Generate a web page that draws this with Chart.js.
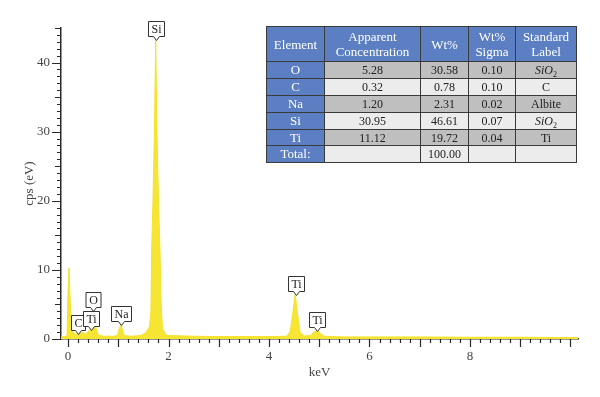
<!DOCTYPE html>
<html lang="en">
<head>
<meta charset="UTF-8">
<title>EDS spectrum</title>
<script src="https://cdn.jsdelivr.net/npm/chart.js"></script>
<style>
  body { margin: 0; background: #fff; }
  .wrap { position: relative; width: 600px; height: 397px; }
  #quant {
    position: absolute; left: 266px; top: 26px;
    border-collapse: collapse; table-layout: fixed;
    font-family: 'Liberation Serif', serif; font-size: 12px; color: #222;
  }
  #quant th, #quant td { border: 1.5px solid #3a3a3a; text-align: center; padding: 0; }
  #quant th { background: #5b7fc2; color: #fff; font-weight: normal; font-size: 13px; line-height: 15px; height: 34px; }
  #quant td { height: 15.9px; line-height: 14px; }
  #quant td.el { background: #5b7fc2; color: #fff; font-size: 13px; }
  #quant tr.dark td { background: #bfbfbf; }
  #quant tr.light td { background: #ececec; }
  #quant tr td.el { background: #5b7fc2; }
  #quant sub { font-size: 8px; line-height: 0; vertical-align: -3px; }
</style>
</head>
<body>
<div class="wrap">
  <canvas id="spectrum" width="600" height="397"></canvas>
  <table id="quant"></table>
</div>
<script>
// spectrum (keV vs cps)
const keV = [-0.14, -0.02, 0.0, 0.02, 0.04, 0.07, 0.1, 0.15, 0.2, 0.25, 0.28, 0.32, 0.38, 0.44, 0.48, 0.51, 0.53, 0.56, 0.6,
  0.7, 0.9, 0.98, 1.02, 1.05, 1.08, 1.12, 1.25, 1.45, 1.55, 1.62, 1.65, 1.665, 1.69, 1.72, 1.745, 1.77, 1.80, 1.83, 1.855,
  1.88, 1.95, 2.0, 2.5, 3.0, 3.5, 4.0, 4.35, 4.42, 4.47, 4.52, 4.57, 4.62, 4.7, 4.82, 4.88, 4.95, 5.02, 5.1, 5.5, 6.0,
  7.0, 8.0, 9.0, 10.15];
const cps = [0.3, 0.4, 7, 10.3, 6, 2, 1.0, 0.7, 0.6, 0.9, 1.0, 0.7, 0.9, 1.4, 1.8, 3.6, 4.2, 1.5, 0.6,
  0.4, 0.4, 0.5, 1.5, 2.1, 1.4, 0.5, 0.4, 0.5, 0.9, 1.8, 4, 13, 20, 30, 43.4, 30, 20, 13, 4.5,
  1.5, 0.6, 0.5, 0.4, 0.35, 0.35, 0.35, 0.4, 1.0, 3.5, 6.5, 3.5, 0.9, 0.45, 0.5, 0.9, 1.3, 0.8, 0.4, 0.3, 0.3,
  0.3, 0.25, 0.25, 0.2];

// peak labels
const peakNames = ['C', 'Ti', 'O', 'Na', 'Si', 'Ti', 'Ti'];
const peakKeV = [0.2, 0.45, 0.5, 1.05, 1.75, 4.53, 4.95];
const peakCps = [0.7, 1.3, 4.1, 2.0, 43.3, 6.4, 1.1];

// ticks
const yLabels = [0, 10, 20, 30, 40];
const xLabels = [0, 2, 4, 6, 8];

// quantification table
const tableHeads = ['Element', 'Apparent<br>Concentration', 'Wt%', 'Wt%<br>Sigma', 'Standard<br>Label'];
const colWidths = [57, 95, 47, 46, 60];
const elements = ['O', 'C', 'Na', 'Si', 'Ti', 'Total:'];
const apparentConc = ['5.28', '0.32', '1.20', '30.95', '11.12', ''];
const wtPct = ['30.58', '0.78', '2.31', '46.61', '19.72', '100.00'];
const wtSigma = ['0.10', '0.10', '0.02', '0.07', '0.04', ''];
const stdLabel = ['<i>SiO</i><sub>2</sub>', 'C', 'Albite', '<i>SiO</i><sub>2</sub>', 'Ti', ''];

let html = '<tr>' + tableHeads.map((h, i) => `<th style="width:${colWidths[i]}px">${h}</th>`).join('') + '</tr>';
elements.forEach((el, i) => {
  html += `<tr class="${i % 2 === 0 ? 'dark' : 'light'}"><td class="el">${el}</td><td>${apparentConc[i]}</td>` +
    `<td>${wtPct[i]}</td><td>${wtSigma[i]}</td><td>${stdLabel[i]}</td></tr>`;
});
document.getElementById('quant').innerHTML = html;

const xTickVals = [];
for (let k = 0; k <= 50; k++) xTickVals.push(Math.round(k * 2) / 10);
const yTickVals = [];
for (let v = 0; v <= 45; v++) yTickVals.push(v);

const axisFont = { family: 'Liberation Serif', size: 13 };

const tickMarks = {
  id: 'tickMarks',
  afterDraw(chart) {
    const { ctx, chartArea, scales: { x, y } } = chart;
    ctx.save();
    ctx.strokeStyle = '#2a2a2a';
    ctx.lineWidth = 1.2;
    ctx.beginPath();
    yTickVals.forEach(v => {
      const py = Math.round(y.getPixelForValue(v)) + 0.5;
      const len = v % 10 === 0 ? 9 : (v % 5 === 0 ? 6 : 4);
      ctx.moveTo(chartArea.left - len, py);
      ctx.lineTo(chartArea.left, py);
    });
    xTickVals.forEach(v => {
      const px = Math.round(x.getPixelForValue(v)) + 0.5;
      const len = Math.abs(v - Math.round(v)) < 1e-6 ? 8 : 4;
      ctx.moveTo(px, chartArea.bottom);
      ctx.lineTo(px, chartArea.bottom + len);
    });
    ctx.stroke();
    ctx.restore();
  }
};

const peakTags = {
  id: 'peakTags',
  afterDatasetsDraw(chart) {
    const { ctx, scales: { x, y } } = chart;
    ctx.save();
    ctx.font = '12px "Liberation Serif"';
    ctx.textAlign = 'center';
    ctx.textBaseline = 'middle';
    peakNames.forEach((name, i) => {
      const px = Math.round(x.getPixelForValue(peakKeV[i])) + 0.5;
      const py = Math.round(y.getPixelForValue(peakCps[i])) + 0.5;
      const w = Math.round(ctx.measureText(name).width) + 6;
      const h = 15;
      const bot = py - 4;
      const l = px - w / 2, r = px + w / 2, t = bot - h;
      ctx.beginPath();
      ctx.moveTo(l, t);
      ctx.lineTo(r, t);
      ctx.lineTo(r, bot);
      ctx.lineTo(px + 3, bot);
      ctx.lineTo(px, py);
      ctx.lineTo(px - 3, bot);
      ctx.lineTo(l, bot);
      ctx.closePath();
      ctx.fillStyle = '#fff';
      ctx.fill();
      ctx.strokeStyle = '#333';
      ctx.lineWidth = 1;
      ctx.stroke();
      ctx.fillStyle = '#222';
      ctx.fillText(name, px, t + h / 2 + 0.5);
    });
    ctx.restore();
  }
};

new Chart(document.getElementById('spectrum'), {
  type: 'line',
  data: {
    datasets: [{
      data: keV.map((k, i) => ({ x: k, y: cps[i] })),
      borderColor: '#f4e22c',
      backgroundColor: '#f6e533',
      borderWidth: 1,
      pointRadius: 0,
      tension: 0,
      fill: 'origin'
    }]
  },
  options: {
    responsive: false,
    animation: false,
    layout: { padding: { left: 22, right: 22, top: 28, bottom: 17 } },
    plugins: { legend: { display: false }, tooltip: { enabled: false } },
    scales: {
      x: {
        type: 'linear',
        min: -0.14,
        max: 10.15,
        afterBuildTicks: s => { s.ticks = xTickVals.map(v => ({ value: v })); },
        afterFit: s => { s.height = 41; },
        border: { display: true, color: '#2a2a2a', width: 1.5 },
        grid: { drawOnChartArea: false, drawTicks: true, tickLength: 7, color: 'rgba(0,0,0,0)' },
        ticks: {
          autoSkip: false, maxRotation: 0, minRotation: 0, padding: 3,
          color: '#444', font: axisFont,
          callback: v => xLabels.includes(v) ? String(v) : ''
        },
        title: { display: true, text: 'keV', color: '#444', font: axisFont, padding: 0 }
      },
      y: {
        min: 0,
        max: 45,
        afterBuildTicks: s => { s.ticks = yTickVals.map(v => ({ value: v })); },
        afterFit: s => { s.width = 39; },
        border: { display: true, color: '#2a2a2a', width: 1.5 },
        grid: { drawOnChartArea: false, drawTicks: true, tickLength: 9, color: 'rgba(0,0,0,0)' },
        ticks: {
          autoSkip: false, padding: 2, color: '#444', font: axisFont,
          callback: v => yLabels.includes(v) ? String(v) : ''
        },
        title: { display: true, text: 'cps (eV)', color: '#444', font: axisFont, padding: 0 }
      }
    }
  },
  plugins: [tickMarks, peakTags]
});
</script>
</body>
</html>
